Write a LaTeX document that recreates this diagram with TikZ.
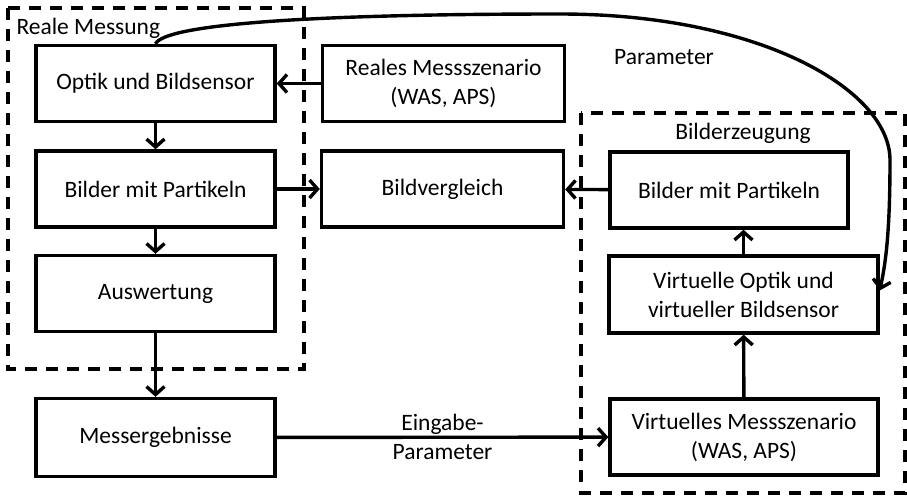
\documentclass[tikz,border=0pt]{standalone}
\usepackage{fontspec}
\setmainfont{Carlito}
\usepackage{tikz}
\usetikzlibrary{arrows.meta, positioning}

\begin{document}
\begin{tikzpicture}[x=1pt, y=-1pt,
	block/.style={draw, line width=3.4pt, inner sep=0pt, align=center, minimum height=76pt},
	frame/.style={draw, line width=3.4pt, dash pattern=on 12pt off 9pt},
	arrow/.style={line width=3.4pt, -{Straight Barb[length=8pt, width=18pt, line width=3.4pt]}},
	every node/.style={font=\fontsize{23.5}{29}\selectfont}]

\useasboundingbox (0,0) rectangle (907,496);

\def \colw{239pt} % left column
\def \midw{242pt} % middle column

% real measurement chain
\node[block, minimum width=\colw] (optik)      at (155.5,  83.5) {Optik und Bildsensor};
\node[block, minimum width=\colw] (bilderreal) at (155.5, 189)   {Bilder mit Partikeln};
\node[block, minimum width=\colw] (auswertung) at (155.5, 293.5) {Auswertung};
\node[block, minimum width=\colw, minimum height=78pt] (messerg) at (155.5, 437.5) {Messergebnisse};

\node[block, minimum width=\midw] (realszen) at (443.5,  83.5) {Reales Messszenario\\(WAS, APS)};
\node[block, minimum width=\midw] (bildvgl)  at (442.5, 189)   {Bildvergleich};

% image generation chain
\node[block, minimum width=238pt] (bildervirt) at (729,   190)   {Bilder mit Partikeln};
\node[block, minimum width=269pt, minimum height=77pt] (virtoptik) at (743.5, 294.5) {Virtuelle Optik und\\virtueller Bildsensor};
\node[block, minimum width=268pt] (virtmess)   at (744,   437)   {Virtuelles Messszenario\\(WAS, APS)};

% dashed groups
\draw[frame] (8,8) rectangle (304,369);
\draw[frame] (581,113) rectangle (905,493);
\node[anchor=west] (realemess) at (13,28) {Reale Messung};
\node (bilderz) at (743,133) {Bilderzeugung};

% connectors
\draw[arrow] (optik) -- (bilderreal);
\draw[arrow] (bilderreal) -- (auswertung);
\draw[arrow] (auswertung) -- (messerg);
\draw[arrow] (realszen) -- (optik);
\draw[arrow] (bilderreal) -- (bildvgl);
\draw[arrow] (bildervirt) -- (bildvgl);
\draw[arrow] (virtoptik.north) -- (virtoptik.north |- bildervirt.south);
\draw[arrow] (virtmess) -- (virtoptik);
\draw[arrow] (messerg) -- node[align=center] (eingabe) {Eingabe-\\Parameter} (virtmess);

% parameter feedback
\draw[arrow] (optik.north) .. controls (165,25) and (300,14) .. (560,14)
	.. controls (760,14) and (890,90) .. (890,160)
	.. controls (890,230) and (886,262) .. ([yshift=4pt]virtoptik.east);
\node (param) at (664,57) {Parameter};

\end{tikzpicture}
\end{document}
